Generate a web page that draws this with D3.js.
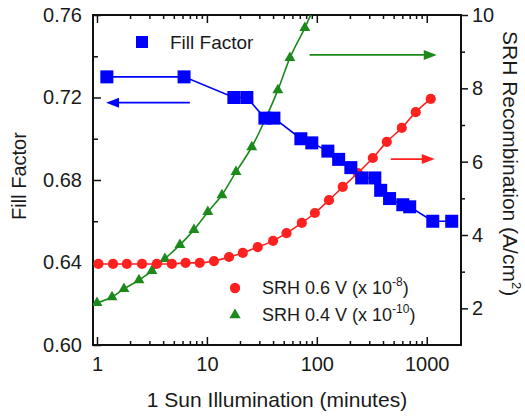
<!DOCTYPE html>
<html>
<head>
<meta charset="utf-8">
<script src="https://cdn.jsdelivr.net/npm/d3@7/dist/d3.min.js"></script>
<style>
  body { margin: 0; background: #fff; }
  text { font-family: "Liberation Sans", Arial, sans-serif; fill: #1a1a1a; }
</style>
</head>
<body>
<svg id="chart" width="525" height="417"></svg>
<script>
// ---------------------------------------------------------------------------
// Data

// fill factor, left axis
const ffTime = [1.23, 6.2, 17.6, 23.1, 33.7, 40.7, 71.6, 90, 126, 158, 204, 256, 337, 381, 459, 606, 700, 1135, 1687];
const ffValue = [0.73, 0.73, 0.72, 0.72, 0.71, 0.71, 0.70, 0.698, 0.694, 0.69, 0.686, 0.681, 0.681, 0.675, 0.671, 0.668, 0.667, 0.66, 0.66];

// SRH 0.6 V (x 1e-8), right axis
const srh06Time = [1.03, 1.4, 1.87, 2.57, 3.5, 4.8, 6.4, 8.6, 11.6, 15.9, 21.2, 29, 40, 53, 73, 96, 129, 172, 236, 323, 433, 593, 794, 1087];
const srh06Value = [3.21, 3.21, 3.21, 3.21, 3.21, 3.21, 3.24, 3.24, 3.29, 3.40, 3.51, 3.67, 3.84, 4.05, 4.33, 4.60, 4.95, 5.31, 5.69, 6.10, 6.54, 6.92, 7.35, 7.71];

// SRH 0.4 V (x 1e-10), right axis (last point runs off the top)
const srh04Time = [1, 1.37, 1.76, 2.41, 3.16, 4.15, 5.68, 7.62, 10.2, 13.7, 18.4, 25.6, 34.4, 44.2, 56.9, 77.8, 104];
const srh04Value = [2.15, 2.31, 2.53, 2.77, 3.02, 3.35, 3.73, 4.14, 4.63, 5.09, 5.72, 6.40, 7.19, 7.95, 8.83, 9.65, 10.5];

// ticks
const xMajor = [1, 10, 100, 1000];
const xMinor = [2, 3, 4, 5, 6, 7, 8, 9, 20, 30, 40, 50, 60, 70, 80, 90, 200, 300, 400, 500, 600, 700, 800, 900];
const ffMajor = [0.60, 0.64, 0.68, 0.72, 0.76];
const ffMinor = [0.62, 0.66, 0.70, 0.74];
const srhMajor = [2, 4, 6, 8, 10];
const srhMinor = [3, 5, 7, 9];

// direction arrows: [fromTime, toTime, value, axis]
const arrows = [
  { from: 7.0, to: 1.21, value: 0.7175, axis: 'left', color: '#0000ff' },
  { from: 86, to: 1234, value: 8.91, axis: 'right', color: '#1b8a1b' },
  { from: 471, to: 1183, value: 6.07, axis: 'right', color: '#ff2020' }
];

// ---------------------------------------------------------------------------
// Layout

const blue = '#0000ff';
const red = '#ff2020';
const green = '#1b8a1b';

const margin = { top: 15, right: 64, bottom: 72, left: 93 };
const width = 525 - margin.left - margin.right;
const height = 417 - margin.top - margin.bottom;

const svg = d3.select('#chart');
const g = svg.append('g').attr('transform', `translate(${margin.left},${margin.top})`);

const x = d3.scaleLog().domain([0.92, 2050]).range([0, width]);
const yLeft = d3.scaleLinear().domain([0.60, 0.76]).range([height, 0]);
const yRight = d3.scaleLinear().domain([1, 10]).range([height, 0]);

g.append('clipPath').attr('id', 'plot-clip')
  .append('rect').attr('width', width).attr('height', height);

/**
 * Function to draw a tick-only axis
 */
function tickAxis(axis, transform) {
  const a = g.append('g').attr('transform', transform).call(axis);
  a.select('.domain').remove();
  a.selectAll('line').attr('stroke', '#111').attr('stroke-width', 1.5);
  a.selectAll('text').style('font-size', '20px').attr('fill', '#1a1a1a');
  return a;
}

// bottom
tickAxis(d3.axisBottom(x).tickValues(xMajor).tickFormat(d3.format('d'))
  .tickSizeInner(-8).tickSizeOuter(0).tickPadding(12), `translate(0,${height})`);
tickAxis(d3.axisBottom(x).tickValues(xMinor).tickFormat('')
  .tickSizeInner(-4).tickSizeOuter(0), `translate(0,${height})`);
// top
tickAxis(d3.axisTop(x).tickValues(xMajor).tickFormat('').tickSizeInner(-8).tickSizeOuter(0), 'translate(0,0)');
tickAxis(d3.axisTop(x).tickValues(xMinor).tickFormat('').tickSizeInner(-4).tickSizeOuter(0), 'translate(0,0)');
// left
tickAxis(d3.axisLeft(yLeft).tickValues(ffMajor).tickFormat(d3.format('.2f'))
  .tickSizeInner(-8).tickSizeOuter(0).tickPadding(11), 'translate(0,0)');
tickAxis(d3.axisLeft(yLeft).tickValues(ffMinor).tickFormat('')
  .tickSizeInner(-5).tickSizeOuter(0), 'translate(0,0)');
// right
tickAxis(d3.axisRight(yRight).tickValues(srhMajor).tickFormat(d3.format('d'))
  .tickSizeInner(7).tickSizeOuter(0).tickPadding(4), `translate(${width},0)`);
tickAxis(d3.axisRight(yRight).tickValues(srhMinor).tickFormat('')
  .tickSizeInner(4).tickSizeOuter(0), `translate(${width},0)`);

// frame
g.append('rect')
  .attr('width', width).attr('height', height)
  .attr('fill', 'none').attr('stroke', '#111').attr('stroke-width', 2);

// ---------------------------------------------------------------------------
// Series

const plot = g.append('g').attr('clip-path', 'url(#plot-clip)');

const ffData = ffTime.map((t, i) => ({ t, v: ffValue[i] }));
const srh06Data = srh06Time.map((t, i) => ({ t, v: srh06Value[i] }));
const srh04Data = srh04Time.map((t, i) => ({ t, v: srh04Value[i] }));

plot.append('path')
  .datum(srh04Data)
  .attr('fill', 'none').attr('stroke', green).attr('stroke-width', 1.6)
  .attr('d', d3.line().x(d => x(d.t)).y(d => yRight(d.v)).curve(d3.curveMonotoneX));
plot.selectAll('.tri').data(srh04Data).enter()
  .append('path').attr('class', 'tri')
  .attr('transform', d => `translate(${x(d.t)},${yRight(d.v)})`)
  .attr('d', d3.symbol().type(d3.symbolTriangle).size(52))
  .attr('fill', green);

plot.append('path')
  .datum(srh06Data)
  .attr('fill', 'none').attr('stroke', red).attr('stroke-width', 1.6)
  .attr('d', d3.line().x(d => x(d.t)).y(d => yRight(d.v)).curve(d3.curveMonotoneX));
plot.selectAll('.dot').data(srh06Data).enter()
  .append('circle').attr('class', 'dot')
  .attr('cx', d => x(d.t)).attr('cy', d => yRight(d.v)).attr('r', 5.1)
  .attr('fill', red);

plot.append('path')
  .datum(ffData)
  .attr('fill', 'none').attr('stroke', blue).attr('stroke-width', 1.6)
  .attr('d', d3.line().x(d => x(d.t)).y(d => yLeft(d.v)));
plot.selectAll('.sq').data(ffData).enter()
  .append('rect').attr('class', 'sq')
  .attr('x', d => x(d.t) - 6.5).attr('y', d => yLeft(d.v) - 6.5)
  .attr('width', 13).attr('height', 13)
  .attr('fill', blue);

// arrows
arrows.forEach(a => {
  const yy = a.axis === 'left' ? yLeft(a.value) : yRight(a.value);
  const x1 = x(a.from);
  const x2 = x(a.to);
  const dir = x2 > x1 ? 1 : -1;
  g.append('line')
    .attr('x1', x1).attr('x2', x2 - dir * 8).attr('y1', yy).attr('y2', yy)
    .attr('stroke', a.color).attr('stroke-width', 1.8);
  g.append('path')
    .attr('d', `M${x2},${yy} L${x2 - dir * 13},${yy - 5} L${x2 - dir * 13},${yy + 5} Z`)
    .attr('fill', a.color);
});

// ---------------------------------------------------------------------------
// Legends

const ffLegend = g.append('g').attr('transform', 'translate(49,27)');
ffLegend.append('rect').attr('x', -6).attr('y', -6).attr('width', 12).attr('height', 12).attr('fill', blue);
ffLegend.append('text').attr('x', 28).attr('y', 7).style('font-size', '19px').text('Fill Factor');

const srhLegend = [
  { label: 'SRH 0.6 V (x 10', exp: '-8', color: red, shape: 'circle' },
  { label: 'SRH 0.4 V (x 10', exp: '-10', color: green, shape: 'triangle' }
];
const leg = g.selectAll('.srh-legend').data(srhLegend).enter()
  .append('g').attr('class', 'srh-legend')
  .attr('transform', (d, i) => `translate(142,${273 + i * 27})`);
leg.each(function(d) {
  const el = d3.select(this);
  if (d.shape === 'circle') {
    el.append('circle').attr('r', 5.2).attr('fill', d.color);
  } else {
    el.append('path').attr('d', d3.symbol().type(d3.symbolTriangle).size(55)).attr('fill', d.color);
  }
  const t = el.append('text').attr('x', 27).attr('y', 6).style('font-size', '18px');
  t.append('tspan').text(d.label);
  t.append('tspan').attr('dy', -8).style('font-size', '12px').text(d.exp);
  t.append('tspan').attr('dy', 8).text(')');
});

// ---------------------------------------------------------------------------
// Axis titles

svg.append('text')
  .attr('x', 277).attr('y', 407)
  .attr('text-anchor', 'middle').style('font-size', '21px')
  .text('1 Sun Illumination (minutes)');

svg.append('text')
  .attr('transform', 'translate(26,176) rotate(-90)')
  .attr('text-anchor', 'middle').style('font-size', '20px')
  .text('Fill Factor');

const rt = svg.append('text')
  .attr('transform', 'translate(503,31) rotate(90)')
  .attr('text-anchor', 'start').style('font-size', '21px');
rt.append('tspan').text('SRH Recombination (A/cm');
rt.append('tspan').attr('dy', -9).style('font-size', '13px').text('2');
rt.append('tspan').attr('dy', 9).text(')');
</script>
</body>
</html>
